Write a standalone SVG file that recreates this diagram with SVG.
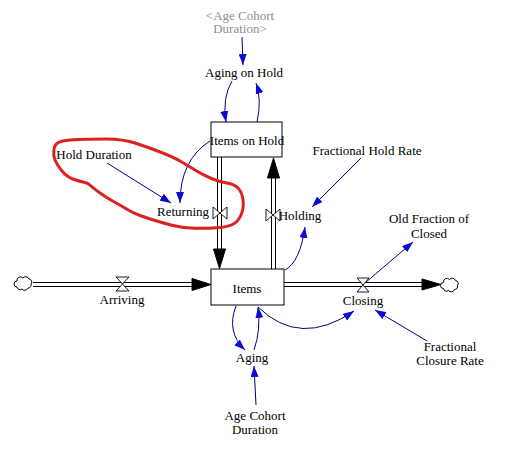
<svg xmlns="http://www.w3.org/2000/svg" width="510" height="450" viewBox="0 0 510 450">
<style>
text{font-family:"Liberation Serif","Times New Roman",serif;font-size:13px;fill:#000;text-anchor:middle}
.shadow{fill:#909090}
.stock{fill:#fff;stroke:#000;stroke-width:1}
.pipe{stroke:#000;stroke-width:1;fill:none}
.head{fill:#000;stroke:#000}
.valve{fill:#fff;stroke:#000;stroke-width:0.9}
.cloud{fill:#fff;stroke:#000;stroke-width:1}
.link{fill:none;stroke:#000080;stroke-width:1;marker-end:url(#ah)}
.mark{fill:none;stroke:#dd2020;stroke-width:3;stroke-linejoin:round}
</style>
<defs>
<marker id="ah" markerUnits="userSpaceOnUse" markerWidth="11" markerHeight="8" refX="11" refY="4" orient="auto">
<path d="M0,0 L11,4 L0,8 z" fill="#0a0ad0"/>
</marker>
<path id="cl" d="M17,287 a3,3 0 0,1 0,-6 a3.5,3.5 0 0,1 6,-3 a3.5,3.5 0 0,1 6,1 a3,3 0 0,1 2,5 a3,3 0 0,1 -3,4 a3.5,3.5 0 0,1 -6,1 a3,3 0 0,1 -5,-2 z"/>
</defs>
<rect width="510" height="450" fill="#fff"/>

<g id="connectors">
<g id="flow-arriving">
<line class="pipe" x1="33" y1="282.5" x2="194" y2="282.5"/>
<line class="pipe" x1="33" y1="286.5" x2="194" y2="286.5"/>
<polygon class="head" points="192,278.5 211,284.5 192,290.5"/>
</g>
<g id="flow-closing">
<line class="pipe" x1="284" y1="282.5" x2="424" y2="282.5"/>
<line class="pipe" x1="284" y1="286.5" x2="424" y2="286.5"/>
<polygon class="head" points="422,279 441,284.5 422,290"/>
</g>
<g id="flow-returning">
<line class="pipe" x1="217.5" y1="157" x2="217.5" y2="251"/>
<line class="pipe" x1="221.5" y1="157" x2="221.5" y2="251"/>
<polygon class="head" points="213.5,249 219.5,268.5 225.5,249"/>
</g>
<g id="flow-holding">
<line class="pipe" x1="271.5" y1="269" x2="271.5" y2="176"/>
<line class="pipe" x1="275.5" y1="269" x2="275.5" y2="176"/>
<polygon class="head" points="267.5,178 273.5,158 279.5,178"/>
</g>
<path class="link" d="M242,37 L243,65"/>
<path class="link" d="M232,81 Q222,98 226,122"/>
<path class="link" d="M257,122 Q262,100 256,83"/>
<path class="link" d="M210,141 Q180,160 180,203"/>
<path class="link" d="M107,163 L171,203"/>
<path class="link" d="M361,158 L312,207"/>
<path class="link" d="M285,270 Q300,262 305,227"/>
<path class="link" d="M365,283 L413,242"/>
<path class="link" d="M258,307 Q300,348 354,311"/>
<path class="link" d="M427,341 L375,310"/>
<path class="link" d="M236,306 Q226,332 245,350"/>
<path class="link" d="M254,350 Q261,330 258,307"/>
<path class="link" d="M256,405 L254,366"/>
</g>

<g id="cloud-source"><use href="#cl" class="cloud"/></g>
<g id="cloud-sink"><use href="#cl" class="cloud" transform="translate(426.5,1.5)"/></g>

<g id="items-on-hold">
<rect class="stock" x="211" y="122" width="71" height="35"/>
<text x="247" y="145">Items on Hold</text>
</g>
<g id="items">
<rect class="stock" x="211" y="269" width="73" height="36"/>
<text x="247" y="292.5">Items</text>
</g>

<g id="returning">
<polygon class="valve" points="213,207 220,213 213,219"/>
<polygon class="valve" points="227,207 220,213 227,219"/>
<text x="183" y="216">Returning</text>
</g>
<g id="holding">
<polygon class="valve" points="266,209 273,215 266,221"/>
<polygon class="valve" points="280,209 273,215 280,221"/>
<text x="300" y="219.5">Holding</text>
</g>
<g id="arriving">
<polygon class="valve" points="116,277 129,277 122.5,284"/>
<polygon class="valve" points="116,291 129,291 122.5,284"/>
<text x="122" y="303.5">Arriving</text>
</g>
<g id="closing">
<polygon class="valve" points="357,278 369,278 363,285"/>
<polygon class="valve" points="357,292 369,292 363,285"/>
<text x="363" y="305">Closing</text>
</g>

<g id="age-cohort-duration-shadow">
<text class="shadow" x="240" y="19.5">&lt;Age Cohort</text>
<text class="shadow" x="240" y="33">Duration&gt;</text>
</g>
<g id="aging-on-hold"><text x="244" y="76.5">Aging on Hold</text></g>
<g id="hold-duration"><text x="94" y="158.5">Hold Duration</text></g>
<g id="fractional-hold-rate"><text x="367" y="155">Fractional Hold Rate</text></g>
<g id="old-fraction-of-closed">
<text x="429" y="223">Old Fraction of</text>
<text x="429" y="237.5">Closed</text>
</g>
<g id="fractional-closure-rate">
<text x="450" y="351">Fractional</text>
<text x="450" y="364.5">Closure Rate</text>
</g>
<g id="aging"><text x="252" y="361.5">Aging</text></g>
<g id="age-cohort-duration">
<text x="255" y="419.5">Age Cohort</text>
<text x="255" y="433.5">Duration</text>
</g>

<path class="mark" d="M61,141.5 Q67,140 78.5,139.5 Q90,139 106.5,139 Q123,139 136.5,143.5 Q150,148 161.5,152.5 Q173,157 180,161 Q187,165 195,170 Q203,175 211.5,178.5 Q220,182 227,183 Q234,184 238,188 Q242,192 243,200 Q244,208 241,215 Q238,222 232.5,224.5 Q227,227 217,227.75 Q207,228.5 195,228.25 Q183,228 173,225.5 Q163,223 155,220.5 Q147,218 140,215.5 Q133,213 126.5,209 Q120,205 113.5,201.5 Q107,198 100,193 Q93,188 90.5,185.5 Q88,183 84,182.25 Q80,181.5 73.5,179.25 Q67,177 62,171 Q57,165 55,160 Q53,155 54,149 Q55,143 61,141.5 z"/>
</svg>
